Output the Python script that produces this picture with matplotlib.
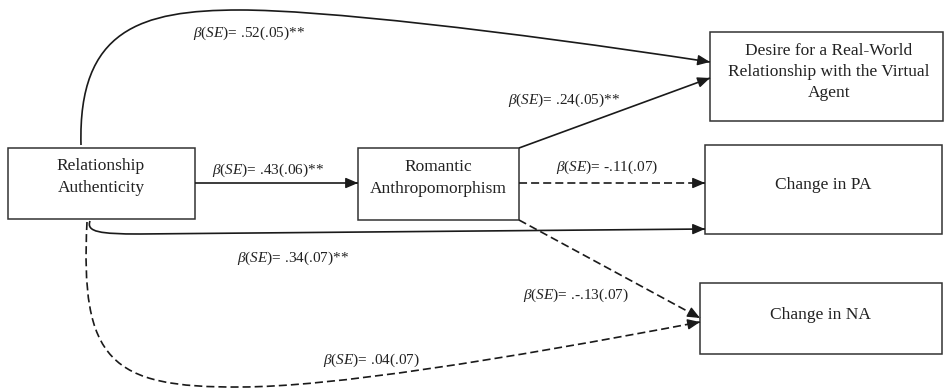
import matplotlib
matplotlib.use("Agg")
import numpy as np
import matplotlib.pyplot as plt
from matplotlib.patches import Rectangle, PathPatch, FancyArrowPatch
from matplotlib.path import Path

plt.rcParams["font.family"] = ["Liberation Serif", "DejaVu Serif"]
plt.rcParams["mathtext.fontset"] = "custom"
plt.rcParams["mathtext.rm"] = "Liberation Serif"
plt.rcParams["mathtext.it"] = "Liberation Serif:italic"
plt.rcParams["lines.scale_dashes"] = False

# nodes of the path model
node_names = ["Relationship\nAuthenticity",
              "Romantic\nAnthropomorphism",
              "Desire for a Real-World\nRelationship with the Virtual\nAgent",
              "Change in PA",
              "Change in NA"]

# path coefficients, beta(SE), in the order the edges are listed below
coefs = [".52(.05)**", ".43(.06)**", ".24(.05)**", "-.11(.07)",
         ".34(.07)**", ".-.13(.07)", ".04(.07)"]
significant = [True, True, True, False, True, False, False]

# layout (pixel coords, y down)
boxes = [(8, 148, 195, 219), (358, 148, 519, 220), (710, 32, 943, 121),
         (705, 145, 942, 234), (700, 283, 942, 354)]
text_xy = [(101, 177), (438, 178), (829, 72), (823, 185), (820, 315)]

M, C, L = Path.MOVETO, Path.CURVE4, Path.LINETO
edges = [
    ([(81, 145), (78, 30), (140, 10), (240, 10), (320, 10), (500, 30), (710, 62)],
     [M, C, C, C, C, C, C]),
    ([(195, 183), (358, 183)], [M, L]),
    ([(519, 148), (710, 78)], [M, L]),
    ([(519, 183), (705, 183)], [M, L]),
    ([(90, 221), (86, 232), (100, 234), (140, 234), (705, 229)], [M, C, C, C, L]),
    ([(519, 220), (700, 318)], [M, L]),
    ([(87, 222), (80, 360), (110, 388), (240, 387), (330, 387), (500, 360), (700, 322)],
     [M, C, C, C, C, C, C]),
]
label_xy = [(193, 33), (212, 170), (508, 100), (556, 167),
            (237, 258), (523, 295), (323, 360)]

fig = plt.figure(figsize=(9.44, 3.88), dpi=100)
ax = fig.add_axes([0, 0, 1, 1])
ax.set_xlim(0, 944)
ax.set_ylim(388, 0)
ax.axis("off")

for (x0, y0, x1, y1), name, (tx, ty) in zip(boxes, node_names, text_xy):
    ax.add_patch(Rectangle((x0, y0), x1 - x0, y1 - y0, fill=False,
                           ec="#333333", lw=1.1))
    ax.text(tx, ty, name, ha="center", va="center", fontsize=12.5,
            linespacing=1.45, color="#222222")

for (pts, codes), sig, coef, (lx, ly) in zip(edges, significant, coefs, label_xy):
    ls = "-" if sig else (0, (5.8, 2.9))
    ax.add_patch(PathPatch(Path(pts, codes), fill=False, ec="#1a1a1a",
                           lw=1.2, linestyle=ls))
    end = np.array(pts[-1], float)
    prev = np.array(pts[-2], float)
    d = (end - prev) / np.linalg.norm(end - prev)
    ax.add_patch(FancyArrowPatch(end - 3 * d, end,
                                 arrowstyle="-|>,head_length=0.75,head_width=0.32",
                                 mutation_scale=10, shrinkA=0, shrinkB=0,
                                 lw=1.0, color="#1a1a1a"))
    ax.text(lx, ly, r"$\beta(SE)$= " + coef, ha="left", va="center",
            fontsize=11, color="#222222")

fig.savefig("out.png", dpi=100)
